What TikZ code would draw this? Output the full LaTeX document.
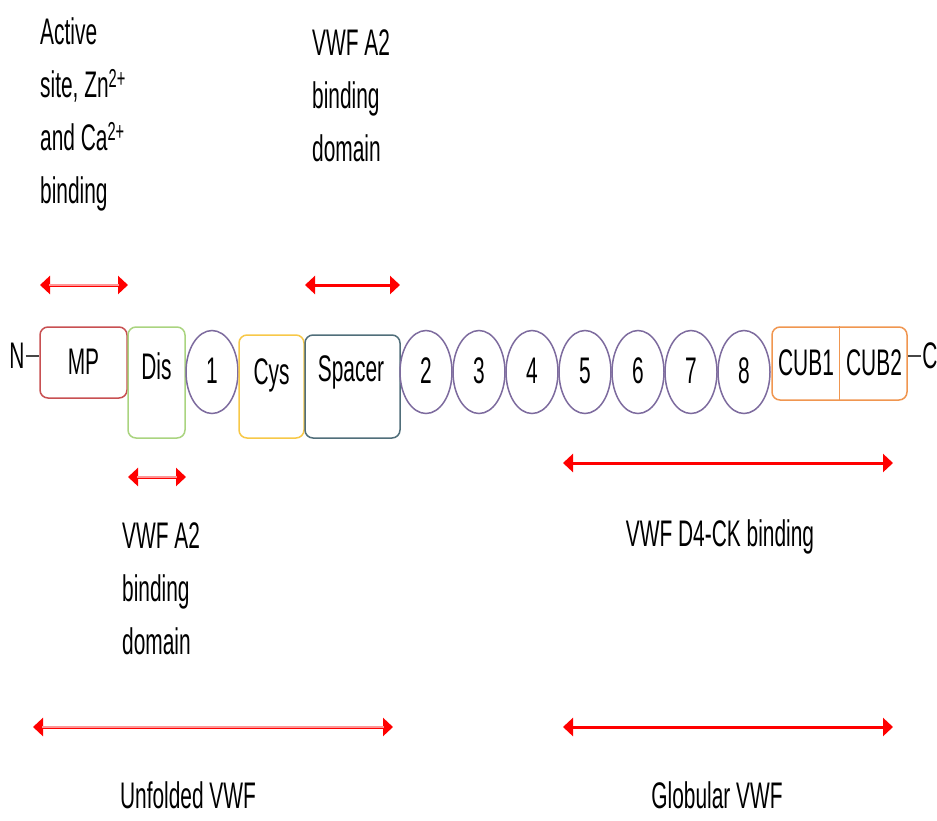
\documentclass[tikz,border=0pt]{standalone}
\usepackage{fontspec}
\setmainfont[FakeStretch=0.565]{Liberation Sans}
\usetikzlibrary{arrows.meta,shapes.geometric}

\definecolor{mpred}{RGB}{200,80,82}
\definecolor{disgreen}{RGB}{170,212,128}
\definecolor{tsppurple}{RGB}{125,107,158}
\definecolor{cysyellow}{RGB}{247,200,72}
\definecolor{spacerslate}{RGB}{80,110,122}
\definecolor{cuborange}{RGB}{240,150,80}
\definecolor{termgray}{RGB}{70,70,70}
\definecolor{palered}{RGB}{255,150,150}

\begin{document}
\begin{tikzpicture}[x=1pt,y=-1pt,
  every node/.style={font=\fontsize{37}{53}\selectfont, inner sep=0pt},
  domain box/.style={draw=#1, line width=1.5pt, rounded corners=8pt, fill=white},
  tsp/.style={ellipse, draw=tsppurple, line width=1.5pt, minimum width=52pt, minimum height=83pt, fill=white},
  note/.style={align=left, anchor=north west},
  span/.style={draw=red, line width=3pt, {Triangle[length=10pt,width=18pt]}-{Triangle[length=10pt,width=18pt]}},
  soft/.style={draw=palered, line width=1.2pt, shorten <=9pt, shorten >=9pt},
  term/.style={draw=termgray, line width=2pt}
]
\useasboundingbox (0,0) rectangle (937,820);

% domain backbone
\node[domain box=mpred, minimum width=87pt, minimum height=71pt] (mp) at (83.5,362.5) {};
\node[domain box=disgreen, minimum width=57pt, minimum height=111pt] (dis) at (156.5,382.5) {};
\node[tsp] (t1) at (212,372) {};
\node[domain box=cysyellow, minimum width=65pt, minimum height=103pt] (cys) at (271.5,386.5) {};
\node[domain box=spacerslate, minimum width=95pt, minimum height=103pt] (spacer) at (352.5,386.5) {};
\foreach \k/\x in {2/426,3/479,4/532,5/585,6/638,7/691,8/744}
  \node[tsp] (t\k) at (\x,372) {};
\node[domain box=cuborange, minimum width=135pt, minimum height=73pt] (cub) at (839.5,363.5) {};
\draw[cuborange, line width=1.2pt] (cub.north) -- (cub.south);

% labels inside the domains
\node (lmp) at (83.5,362) {MP};
\node (ldis) at (156.5,366) {Dis};
\node (lcys) at (271.5,375) {Cys};
\node (lspacer) at (351,372) {Spacer};
\foreach \k in {1,...,8}
  \node (l\k) at ([yshift=1pt]t\k.center) {\k};
\node (lcub1) at (806,363) {CUB1};
\node (lcub2) at (874,363) {CUB2};

% termini
\node (nterm) at (17,356) {N};
\node (cterm) at (930,356) {C};
\draw[term] (nterm.east) ++(1pt,0) coordinate (na) -- (mp.west |- na);
\draw[term] (cub.east |- cterm.west) -- ([xshift=-1pt]cterm.west);

% functional annotations
\node[note] (active) at (40,17) {Active\\site, Zn\textsuperscript{2+}\\and Ca\textsuperscript{2+}\\binding};
\node[note] (spacerbind) at (312,29) {VWF A2\\binding\\domain};
\node[note] (disbind) at (122,522) {VWF A2\\binding\\domain};
\node (cubbind) at (720,537) {VWF D4-CK binding};
\node (unfolded) at (188,795) {Unfolded VWF};
\node (globular) at (717,795) {Globular VWF};

% spans
\coordinate (a1) at (40,285);  \coordinate (a2) at (128,285);
\coordinate (b1) at (305,285); \coordinate (b2) at (400,285);
\coordinate (c1) at (128,477); \coordinate (c2) at (186,477);
\coordinate (d1) at (563,463); \coordinate (d2) at (893,463);
\coordinate (e1) at (33,727);  \coordinate (e2) at (393,727);
\coordinate (f1) at (563,727); \coordinate (f2) at (893,727);
\draw[span] (a1) -- (a2);
\draw[soft] (a1) -- (a2);
\draw[span] (b1) -- (b2);
\draw[span] (c1) -- (c2);
\draw[soft] (c1) -- (c2);
\draw[span] (d1) -- (d2);
\draw[span] (e1) -- (e2);
\draw[soft] (e1) -- (e2);
\draw[span] (f1) -- (f2);
\end{tikzpicture}
\end{document}
